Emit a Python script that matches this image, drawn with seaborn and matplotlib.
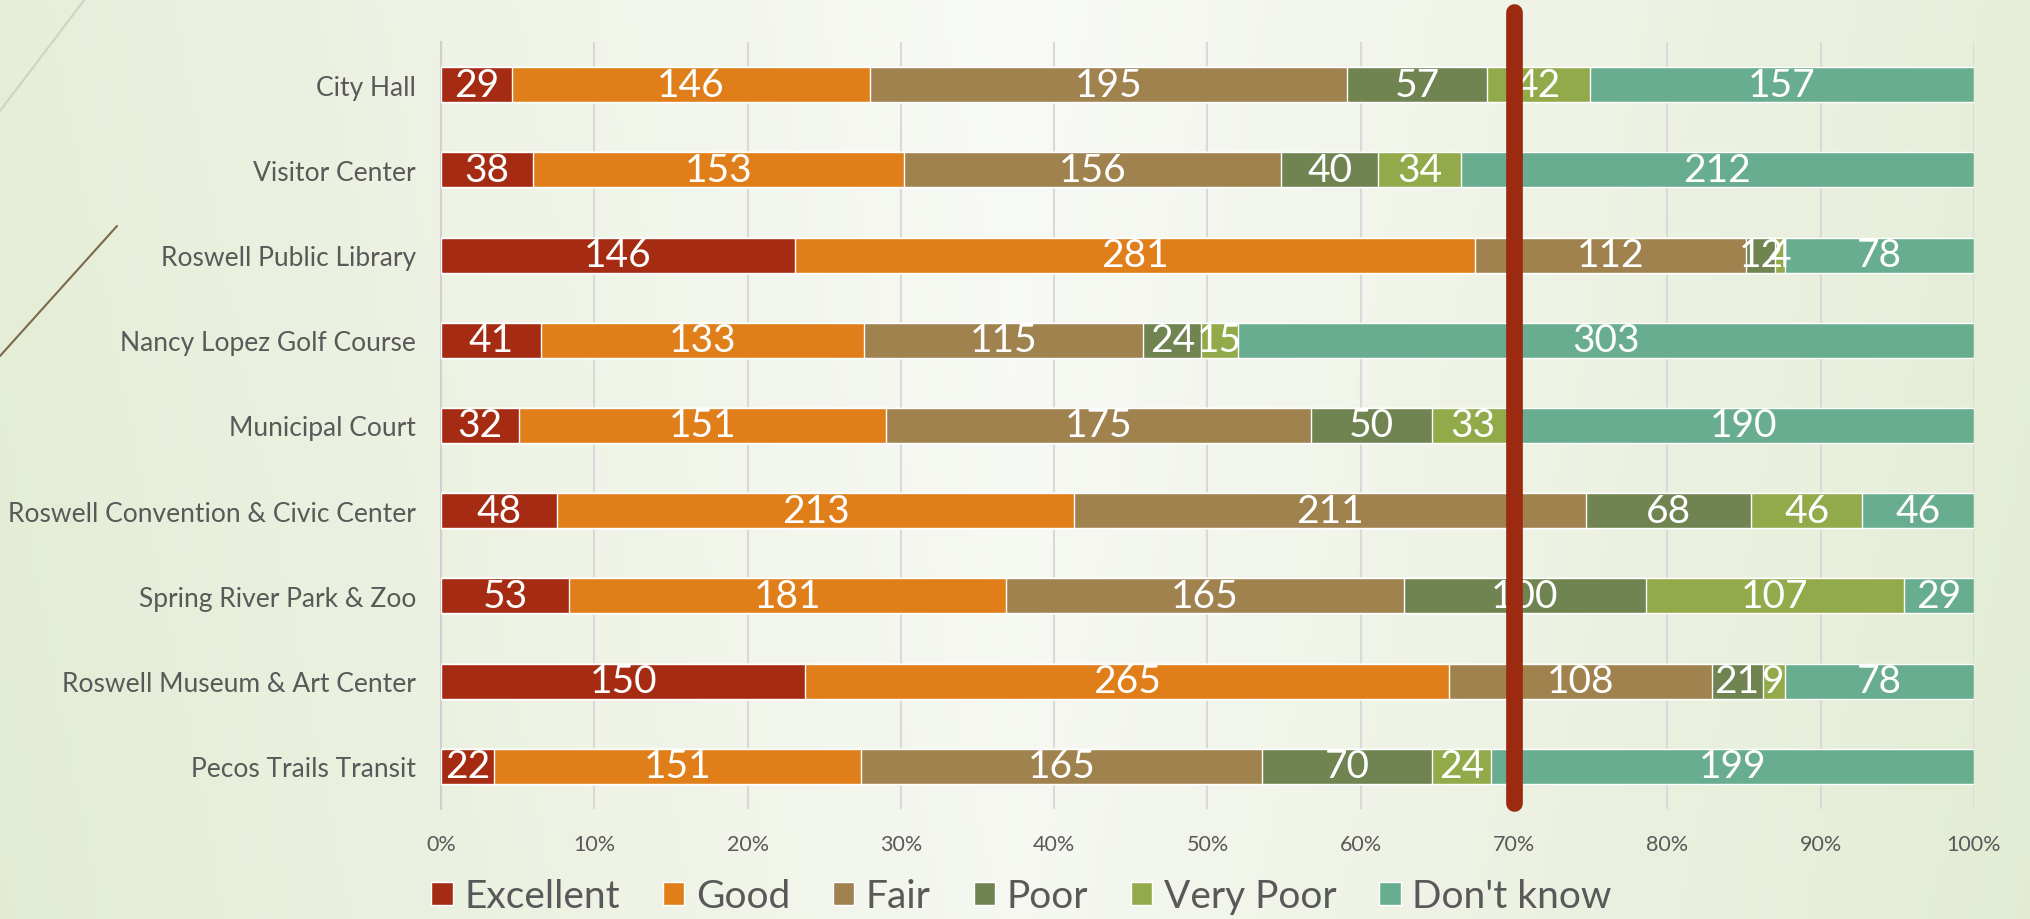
import numpy as np
import pandas as pd
import matplotlib.pyplot as plt
import seaborn as sns
from matplotlib.patches import Patch
from matplotlib.lines import Line2D

sites = ['City Hall', 'Visitor Center', 'Roswell Public Library', 'Nancy Lopez Golf Course',
         'Municipal Court', 'Roswell Convention & Civic Center', 'Spring River Park & Zoo',
         'Roswell Museum & Art Center', 'Pecos Trails Transit']
ratings = ['Excellent', 'Good', 'Fair', 'Poor', 'Very Poor', "Don't know"]
excellent = [29, 38, 146, 41, 32, 48, 53, 150, 22]
good = [146, 153, 281, 133, 151, 213, 181, 265, 151]
fair = [195, 156, 112, 115, 175, 211, 165, 108, 165]
poor = [57, 40, 12, 24, 50, 68, 100, 21, 70]
very_poor = [42, 34, 4, 15, 33, 46, 107, 9, 24]
dont_know = [157, 212, 78, 303, 190, 46, 29, 78, 199]
colors = ['#A52B12', '#E07E19', '#A0824F', '#6F8451', '#93AA4A', '#68AD90']
target = 70

sns.set_style('white')
plt.rcParams['font.family'] = ['Lato', 'DejaVu Sans']
grey = '#595959'

df = pd.DataFrame({'Site': sites, 'Excellent': excellent, 'Good': good, 'Fair': fair,
                   'Poor': poor, 'Very Poor': very_poor, "Don't know": dont_know})
tot = df[ratings].sum(axis=1)
pct = df[ratings].div(tot, axis=0) * 100
cum = pct.cumsum(axis=1)

fig = plt.figure(figsize=(20.31, 9.2), dpi=100)

# background gradient
bg = fig.add_axes([0, 0, 1, 1], zorder=-10)
xx = np.linspace(0, 1, 400)
yy = np.linspace(0, 1, 200)
X, Y = np.meshgrid(xx, yy)
d = np.clip(np.abs(X - 0.5) * 1.7 + (1 - Y) * 0.15, 0, 1)
c0 = np.array([0.975, 0.98, 0.965])
c1 = np.array([0.89, 0.925, 0.83])
img = c0[None, None, :] * (1 - d[..., None]) + c1[None, None, :] * d[..., None]
bg.imshow(img, extent=[0, 1, 0, 1], aspect='auto', origin='lower')
bg.plot([0, 85 / 2031], [1 - 112 / 920, 1], color='#cfd2c4', lw=1.5)
bg.plot([0, 117 / 2031], [1 - 357 / 920, 1 - 227 / 920], color='#7a6a4a', lw=1.5)
bg.set_xlim(0, 1)
bg.set_ylim(0, 1)
bg.axis('off')

ax = fig.add_axes([441 / 2031, 1 - 810 / 920, (1974 - 441) / 2031, (810 - 43) / 920])
ax.patch.set_alpha(0)

for i in range(len(ratings) - 1, -1, -1):
    sns.barplot(x=cum[ratings[i]], y=df['Site'], color=colors[i], width=0.41,
                saturation=1, orient='h', ax=ax, zorder=3)

for i, r in enumerate(ratings):
    for j in range(len(sites)):
        xc = cum[r][j] - pct[r][j] / 2
        ax.text(xc, j, str(df[r][j]), ha='center', va='center', color='white',
                fontsize=28, fontweight='normal', zorder=5)

ax.set_xlim(0, 100)
ax.set_ylim(8.5, -0.5)
ax.set_xticks(np.arange(0, 101, 10))
ax.set_xticklabels([f'{v}%' for v in range(0, 101, 10)])
ax.tick_params(axis='x', labelsize=15.5, colors=grey, length=0, pad=18)
ax.tick_params(axis='y', labelsize=19, colors=grey, length=0, pad=18)
ax.set_xlabel('')
ax.set_ylabel('')
ax.grid(axis='x', color='#d9d9d9', lw=1.5, zorder=0)
for s in ['top', 'right', 'bottom']:
    ax.spines[s].set_visible(False)
ax.spines['left'].set_color('#d0d0d0')
ax.spines['left'].set_linewidth(1.5)

ax.add_line(Line2D([target, target], [-0.85, 8.43], color='#9C2A10', lw=12,
                   solid_capstyle='round', clip_on=False, zorder=10))

handles = [Patch(facecolor=c, label=r) for c, r in zip(colors, ratings)]
fig.legend(handles=handles, loc='center', bbox_to_anchor=(0.503, 1 - 897 / 920), ncol=6,
           frameon=False, fontsize=28, labelcolor=grey, handlelength=0.55, handleheight=0.55,
           handletextpad=0.3, columnspacing=1.1)

fig.savefig('out.png', dpi=100)
